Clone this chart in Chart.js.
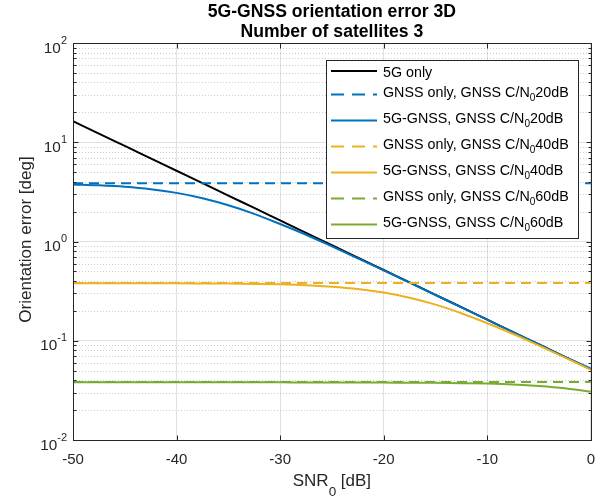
<!DOCTYPE html>
<html>
<head>
<meta charset="utf-8">
<script src="https://cdn.jsdelivr.net/npm/chart.js@4/dist/chart.umd.min.js"></script>
<style>
  html, body { margin: 0; padding: 0; background: #ffffff; }
  #chart { display: block; }
</style>
</head>
<body>
<canvas id="chart" width="606" height="498"></canvas>
<script>
// SNR0 em dB (eixo x)
const snr = [-50, -47.5, -45, -42.5, -40, -37.5, -35, -32.5, -30, -27.5, -25,
             -22.5, -20, -17.5, -15, -12.5, -10, -7.5, -5, -2.5, 0];
// GNSS sozinho é constante, basta o início e o fim
const snrEnds = [-50, 0];

// Erro de orientação [deg]
const only5G   = [16.3, 12.2, 9.18, 6.88, 5.16, 3.87, 2.90, 2.18, 1.63, 1.22, 0.918,
                  0.688, 0.516, 0.387, 0.290, 0.218, 0.163, 0.122, 0.0918, 0.0688, 0.0516];
const gnss20   = [3.86, 3.86];
const combo20  = [3.76, 3.68, 3.56, 3.37, 3.09, 2.73, 2.32, 1.90, 1.50, 1.17, 0.893,
                  0.677, 0.512, 0.385, 0.289, 0.217, 0.163, 0.122, 0.0918, 0.0688, 0.0526];
const gnss40   = [0.382, 0.382];
const combo40  = [0.380, 0.380, 0.380, 0.379, 0.379, 0.378, 0.377, 0.374, 0.370, 0.363, 0.351,
                  0.333, 0.306, 0.271, 0.231, 0.189, 0.150, 0.117, 0.0892, 0.0677, 0.0511];
const gnss60   = [0.0383, 0.0383];
const combo60  = [0.0381, 0.0381, 0.0381, 0.0381, 0.0381, 0.0381, 0.0381, 0.0381, 0.0381, 0.0380, 0.0380,
                  0.0380, 0.0379, 0.0378, 0.0377, 0.0374, 0.0370, 0.0363, 0.0351, 0.0333, 0.0306];

// Legendas ( _{..} = subscrito )
const seriesLabels = [
  '5G only',
  'GNSS only, GNSS C/N_{0}20dB',
  '5G-GNSS, GNSS C/N_{0}20dB',
  'GNSS only, GNSS C/N_{0}40dB',
  '5G-GNSS, GNSS C/N_{0}40dB',
  'GNSS only, GNSS C/N_{0}60dB',
  '5G-GNSS, GNSS C/N_{0}60dB'
];
const titleLines = ['5G-GNSS orientation error 3D', 'Number of satellites 3'];
const xTitle = 'SNR_{0} [dB]';
const yTitle = 'Orientation error [deg]';
const xTicks = [-50, -40, -30, -20, -10, 0];
const yDecades = [0.01, 0.1, 1, 10, 100];
const yTickLabels = ['10^{-2}', '10^{-1}', '10^{0}', '10^{1}', '10^{2}'];

const FONT = '"Liberation Sans", Arial, Helvetica, sans-serif';
const TXT = '#262626';
const BLUE = '#0072BD', YELLOW = '#EDB120', GREEN = '#77AC30';
const DASH = [10, 6];

// quebra a string em pedaços normal / subscrito / sobrescrito
function parseRich(str) {
  const out = [];
  const re = /(_\{[^}]*\}|\^\{[^}]*\})/g;
  let last = 0, m;
  while ((m = re.exec(str)) !== null) {
    if (m.index > last) out.push({ t: str.slice(last, m.index), k: 0 });
    out.push({ t: m[0].slice(2, -1), k: m[0][0] === '_' ? 1 : 2 });
    last = re.lastIndex;
  }
  if (last < str.length) out.push({ t: str.slice(last), k: 0 });
  return out;
}

function richWidth(ctx, parts, size, small) {
  let w = 0;
  parts.forEach(p => {
    ctx.font = (p.k ? small : size) + 'px ' + FONT;
    w += ctx.measureText(p.t).width;
  });
  return w;
}

// desenha texto com sub/sobrescrito; align: 'left' | 'center' | 'right'
function drawRich(ctx, str, x, y, size, small, align, subDy, supDy) {
  const parts = parseRich(str);
  const w = richWidth(ctx, parts, size, small);
  let cx = align === 'center' ? x - w / 2 : align === 'right' ? x - w : x;
  ctx.textAlign = 'left';
  ctx.textBaseline = 'alphabetic';
  parts.forEach(p => {
    ctx.font = (p.k ? small : size) + 'px ' + FONT;
    const dy = p.k === 1 ? subDy : p.k === 2 ? supDy : 0;
    ctx.fillText(p.t, cx, y + dy);
    cx += ctx.measureText(p.t).width;
  });
}

const toXY = (xs, ys) => xs.map((x, i) => ({ x: x, y: ys[i] }));

const seriesData = [
  toXY(snr, only5G), toXY(snrEnds, gnss20), toXY(snr, combo20),
  toXY(snrEnds, gnss40), toXY(snr, combo40), toXY(snrEnds, gnss60), toXY(snr, combo60)
];
const seriesColors = ['#000000', BLUE, BLUE, YELLOW, YELLOW, GREEN, GREEN];
const seriesDashed = [false, true, false, true, false, true, false];

const datasets = seriesData.map((d, i) => ({
  label: seriesLabels[i],
  data: d,
  borderColor: seriesColors[i],
  backgroundColor: seriesColors[i],
  borderWidth: 2,
  borderDash: seriesDashed[i] ? DASH : [],
  pointRadius: 0,
  fill: false,
  cubicInterpolationMode: 'monotone',
  order: seriesData.length - i // as últimas séries ficam por cima, como no MATLAB
}));

// Plugin com os detalhes "MATLAB": grade menor, caixa, ticks internos, textos, legenda
const matlabLook = {
  id: 'matlabLook',
  beforeDatasetsDraw(chart) {
    const { ctx, chartArea: a, scales: { y } } = chart;
    ctx.save();
    ctx.strokeStyle = 'rgba(38,38,38,0.22)';
    ctx.lineWidth = 1;
    ctx.setLineDash([1, 2]);
    for (let d = -2; d < 2; d++) {
      for (let k = 2; k <= 9; k++) {
        const py = Math.round(y.getPixelForValue(k * Math.pow(10, d))) + 0.5;
        ctx.beginPath();
        ctx.moveTo(a.left, py);
        ctx.lineTo(a.right, py);
        ctx.stroke();
      }
    }
    ctx.restore();
  },
  afterDatasetsDraw(chart) {
    const { ctx, chartArea: a, scales: { x, y } } = chart;
    const L = Math.round(a.left) + 0.5, R = Math.round(a.right) + 0.5;
    const T = Math.round(a.top) + 0.5, B = Math.round(a.bottom) + 0.5;
    ctx.save();
    ctx.setLineDash([]);
    ctx.strokeStyle = TXT;
    ctx.lineWidth = 1;
    ctx.strokeRect(L, T, R - L, B - T);

    // ticks para dentro
    ctx.beginPath();
    xTicks.forEach(v => {
      const px = Math.round(x.getPixelForValue(v)) + 0.5;
      ctx.moveTo(px, B); ctx.lineTo(px, B - 5);
      ctx.moveTo(px, T); ctx.lineTo(px, T + 5);
    });
    for (let d = -2; d <= 2; d++) {
      for (let k = 1; k <= (d === 2 ? 1 : 9); k++) {
        const py = Math.round(y.getPixelForValue(k * Math.pow(10, d))) + 0.5;
        const len = k === 1 ? 5 : 3;
        ctx.moveTo(L, py); ctx.lineTo(L + len, py);
        ctx.moveTo(R, py); ctx.lineTo(R - len, py);
      }
    }
    ctx.stroke();

    // rótulos do eixo y (10^n)
    ctx.fillStyle = TXT;
    yDecades.forEach((v, i) => {
      const py = y.getPixelForValue(v);
      drawRich(ctx, yTickLabels[i], a.left - 6, py + 9.5, 15.3, 11, 'right', 0, -9);
    });

    // títulos dos eixos
    const cx = (a.left + a.right) / 2;
    drawRich(ctx, xTitle, cx, 485.5, 17, 13.5, 'center', 10, 0);
    ctx.save();
    ctx.translate(26, (a.top + a.bottom) / 2 - 2);
    ctx.rotate(-Math.PI / 2);
    ctx.font = '17px ' + FONT;
    ctx.textAlign = 'center';
    ctx.textBaseline = 'middle';
    ctx.fillText(yTitle, 0, 0);
    ctx.restore();

    // título
    ctx.fillStyle = '#000000';
    ctx.font = 'bold 17.6px ' + FONT;
    ctx.textAlign = 'center';
    ctx.textBaseline = 'middle';
    ctx.fillText(titleLines[0], cx, 12.5);
    ctx.fillText(titleLines[1], cx, 32.5);

    // legenda
    const bx = 326.5, by = 60.5, bw = 252, bh = 178;
    ctx.fillStyle = '#ffffff';
    ctx.fillRect(bx, by, bw, bh);
    ctx.strokeStyle = TXT;
    ctx.strokeRect(bx, by, bw, bh);
    const rows = [71, 94.5, 120.5, 146.5, 172.5, 198.5, 224.5];
    seriesLabels.forEach((lab, i) => {
      const ly = rows[i];
      ctx.strokeStyle = seriesColors[i];
      ctx.lineWidth = 2;
      ctx.setLineDash(seriesDashed[i] ? [13, 8] : []);
      ctx.beginPath();
      ctx.moveTo(331, ly);
      ctx.lineTo(377, ly);
      ctx.stroke();
      ctx.fillStyle = '#000000';
      drawRich(ctx, lab, 383, i === 0 ? ly + 6 : ly + 2.5, 14.3, 10, 'left', 4, 0);
    });
    ctx.restore();
  }
};

new Chart(document.getElementById('chart'), {
  type: 'line',
  data: { datasets: datasets },
  options: {
    responsive: false,
    animation: false,
    devicePixelRatio: 1,
    layout: { padding: { top: 43, right: 13, left: 0, bottom: 0 } },
    plugins: {
      legend: { display: false },
      title: { display: false },
      tooltip: { enabled: false }
    },
    scales: {
      x: {
        type: 'linear',
        min: -50,
        max: 0,
        afterBuildTicks: s => { s.ticks = xTicks.map(v => ({ value: v })); },
        afterFit: s => { s.height = 58; },
        grid: { color: '#e1e1e1', lineWidth: 1, drawTicks: false },
        border: { display: false },
        ticks: {
          color: TXT,
          padding: 11,
          maxRotation: 0,
          autoSkip: false,
          font: { family: FONT, size: 15 }
        }
      },
      y: {
        type: 'logarithmic',
        min: 0.01,
        max: 100,
        afterBuildTicks: s => { s.ticks = yDecades.map(v => ({ value: v })); },
        afterFit: s => { s.width = 73; },
        grid: { color: '#e1e1e1', lineWidth: 1, drawTicks: false },
        border: { display: false },
        ticks: { display: false }
      }
    }
  },
  plugins: [matlabLook]
});
</script>
</body>
</html>
